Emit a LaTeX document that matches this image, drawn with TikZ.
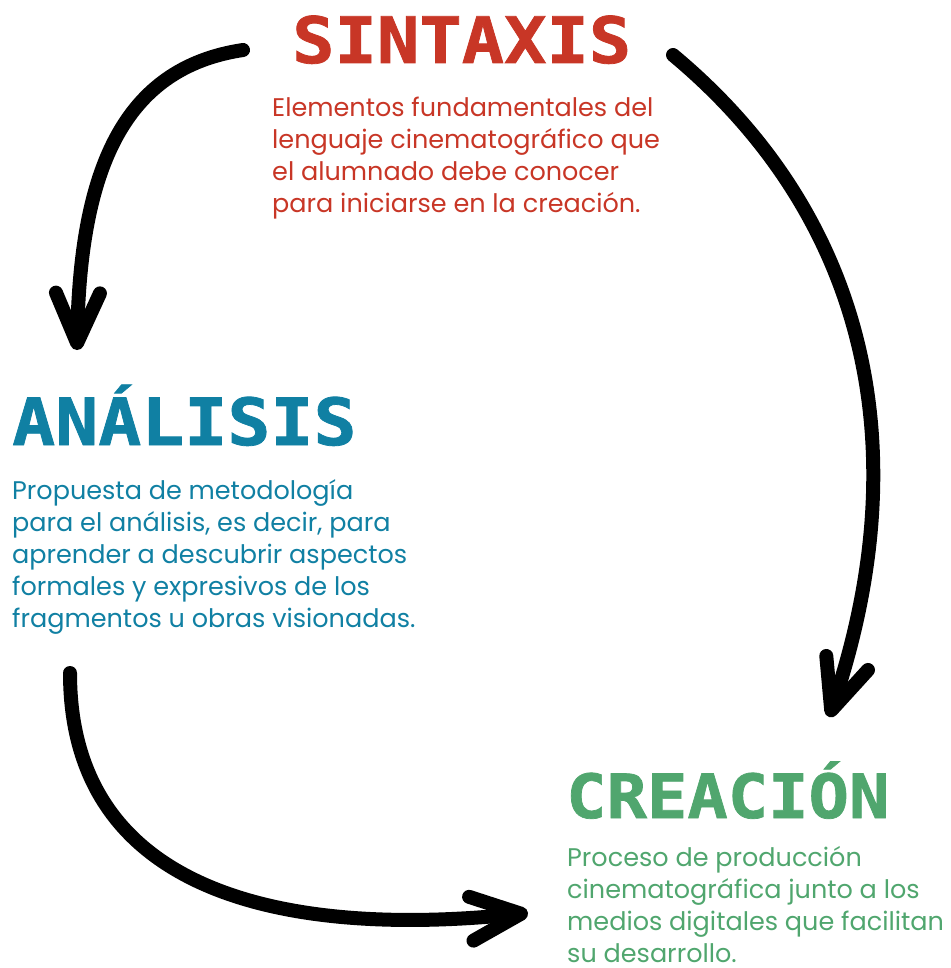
\documentclass[tikz,border=0pt]{standalone}
\usepackage{fontspec}
\setmainfont{Poppins}
\newfontfamily\titlefont{DejaVu Sans Mono}[FakeStretch=1.1, FakeBold=1.2]
\usepackage{xcolor}
\usepackage{tikz}
\definecolor{rojo}{RGB}{200,54,38}
\definecolor{azul}{RGB}{16,128,163}
\definecolor{verde}{RGB}{80,166,110}
\usetikzlibrary{arrows.meta}

\begin{document}
\begin{tikzpicture}[x=1pt, y=-1pt,
    titulo/.style={anchor=base west, inner sep=0pt, font=\titlefont\bfseries\fontsize{#1}{#1}\selectfont},
    titulo/.default=64,
    texto/.style={anchor=base west, inner sep=0pt, align=left, font=\fontsize{25.5}{32}\selectfont},
    flecha/.style={line width=14pt, line cap=round, black, -{Straight Barb[length=50pt, width=44pt, round]}}]
    \useasboundingbox (0,0) rectangle (950,968);

    % Section titles
    \node[titulo, rojo] (sintaxis) at (292,63) {SINTAXIS};
    \node[titulo=65, azul] (analisis) at (12,445) {ANÁLISIS};
    \node[titulo=61, verde] (creacion) at (566,818) {CREACIÓN};

    % Descriptions under each title (placed by the last line)
    \node[texto, rojo] (sintaxistxt) at (272,213) {Elementos fundamentales del\\lenguaje cinematográfico que\\el alumnado debe conocer\\para iniciarse en la creación.};
    \node[texto, azul] (analisistxt) at (12,627) {Propuesta de metodología\\para el análisis, es decir, para\\aprender a descubrir aspectos\\formales y expresivos de los\\fragmentos u obras visionadas.};
    \node[texto, verde] (creaciontxt) at (567,962) {Proceso de producción\\cinematográfica junto a los\\medios digitales que facilitan\\su desarrollo.};

    % Arrow end points
    \coordinate (s1) at (243,50);
    \coordinate (e1) at (77,350);
    \coordinate (s2) at (673,55);
    \coordinate (e2) at (829,717);
    \coordinate (s3) at (70,673);
    \coordinate (e3) at (528,913);

    % Arrows of the cycle
    \draw[flecha] (s1) .. controls (123,68) and (80,170) .. (e1);
    \draw[flecha] (s2) .. controls (865,215) and (920,446) .. (e2);
    \draw[flecha] (s3) .. controls (70,880) and (260,940) .. (e3);
\end{tikzpicture}
\end{document}
